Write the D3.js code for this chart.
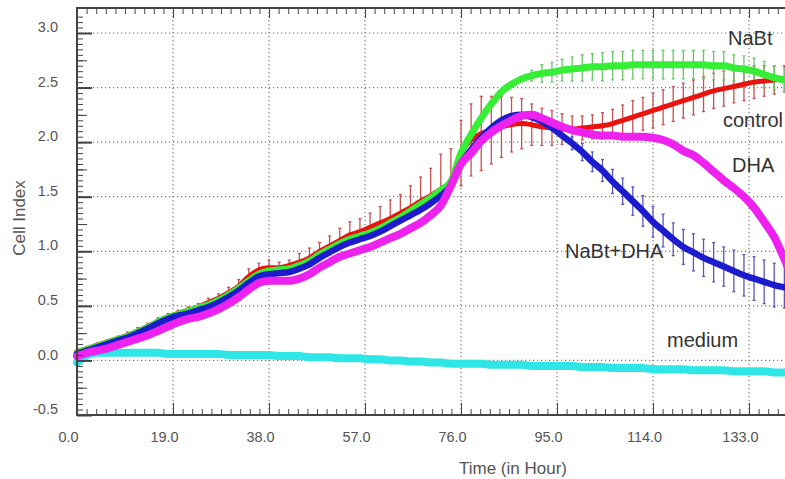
<!DOCTYPE html>
<html>
<head>
<meta charset="utf-8">
<script src="https://cdn.jsdelivr.net/npm/d3@7"></script>
<style>
  body { margin: 0; background: #fff; }
  svg { display: block; font-family: "Liberation Sans", Arial, sans-serif; }
</style>
</head>
<body>
<div id="chart"></div>
<script>
// Sample times (hours)
const hours = [
  0, 2, 4, 6, 8, 10, 12, 14, 16, 18,
  20, 22, 24, 26, 28, 30, 32, 34, 36, 38,
  40, 42, 44, 46, 48, 50, 52, 54, 56, 58,
  60, 62, 64, 66, 68, 70, 72, 74, 76, 78,
  80, 82, 84, 86, 88, 90, 92, 94, 96, 98,
  100, 102, 104, 106, 108, 110, 112, 114, 116, 118,
  120, 122, 124, 126, 128, 130, 132, 134, 136, 138,
  140, 142
];

// Cell index per series
const control = [
  0.08, 0.11, 0.14, 0.17, 0.20, 0.23, 0.27, 0.31, 0.36, 0.40,
  0.43, 0.46, 0.49, 0.53, 0.57, 0.62, 0.68, 0.77, 0.83, 0.85,
  0.85, 0.87, 0.90, 0.94, 1.00, 1.05, 1.10, 1.15, 1.18, 1.22,
  1.26, 1.30, 1.35, 1.40, 1.46, 1.51, 1.57, 1.64, 1.90, 2.02,
  2.08, 2.11, 2.14, 2.16, 2.17, 2.16, 2.14, 2.13, 2.12, 2.12,
  2.13, 2.14, 2.15, 2.17, 2.20, 2.23, 2.26, 2.29, 2.32, 2.35,
  2.38, 2.41, 2.44, 2.47, 2.49, 2.51, 2.53, 2.55, 2.56, 2.57,
  2.58, 2.58
];
const nabt = [
  0.07, 0.10, 0.13, 0.16, 0.19, 0.22, 0.26, 0.30, 0.35, 0.39,
  0.42, 0.45, 0.48, 0.51, 0.55, 0.60, 0.66, 0.73, 0.79, 0.82,
  0.83, 0.84, 0.87, 0.91, 0.97, 1.02, 1.07, 1.11, 1.14, 1.17,
  1.21, 1.26, 1.31, 1.37, 1.43, 1.49, 1.56, 1.64, 1.90, 2.07,
  2.22, 2.35, 2.46, 2.53, 2.58, 2.61, 2.63, 2.64, 2.66, 2.67,
  2.68, 2.69, 2.69, 2.70, 2.70, 2.71, 2.71, 2.71, 2.71, 2.71,
  2.71, 2.71, 2.71, 2.70, 2.70, 2.68, 2.67, 2.65, 2.62, 2.59,
  2.57, 2.55
];
const nabtDha = [
  0.06, 0.09, 0.12, 0.15, 0.18, 0.21, 0.25, 0.29, 0.34, 0.38,
  0.41, 0.43, 0.46, 0.49, 0.53, 0.58, 0.64, 0.71, 0.77, 0.79,
  0.80, 0.81, 0.84, 0.88, 0.94, 0.99, 1.04, 1.08, 1.11, 1.14,
  1.18, 1.23, 1.28, 1.33, 1.38, 1.44, 1.51, 1.60, 1.80, 1.93,
  2.04, 2.13, 2.20, 2.24, 2.25, 2.23, 2.19, 2.13, 2.06, 1.99,
  1.91, 1.82, 1.74, 1.64, 1.55, 1.46, 1.37, 1.27, 1.19, 1.11,
  1.04, 0.99, 0.94, 0.90, 0.86, 0.82, 0.78, 0.75, 0.72, 0.69,
  0.67, 0.65
];
const dha = [
  0.04, 0.07, 0.09, 0.11, 0.14, 0.17, 0.20, 0.23, 0.27, 0.31,
  0.35, 0.38, 0.40, 0.43, 0.47, 0.52, 0.58, 0.65, 0.71, 0.73,
  0.73, 0.73, 0.75, 0.79, 0.85, 0.90, 0.95, 0.98, 1.01, 1.04,
  1.08, 1.12, 1.16, 1.21, 1.26, 1.33, 1.42, 1.60, 1.80, 1.90,
  2.01, 2.09, 2.15, 2.20, 2.24, 2.25, 2.22, 2.18, 2.14, 2.11,
  2.09, 2.07, 2.06, 2.06, 2.05, 2.05, 2.05, 2.04, 2.02, 1.98,
  1.92, 1.88, 1.81, 1.73, 1.65, 1.58, 1.50, 1.40, 1.27, 1.13,
  0.93, 0.72
];
const medium = [
  -0.02, 0.05, 0.07, 0.07, 0.07, 0.07, 0.07, 0.07, 0.07, 0.06,
  0.06, 0.06, 0.06, 0.06, 0.06, 0.05, 0.05, 0.05, 0.05, 0.05,
  0.04, 0.04, 0.04, 0.03, 0.03, 0.03, 0.02, 0.02, 0.02, 0.01,
  0.01, 0.00, 0.00, -0.01, -0.01, -0.02, -0.02, -0.03, -0.03, -0.03,
  -0.03, -0.04, -0.04, -0.04, -0.04, -0.05, -0.05, -0.05, -0.05, -0.05,
  -0.06, -0.06, -0.06, -0.07, -0.07, -0.07, -0.07, -0.08, -0.08, -0.08,
  -0.08, -0.09, -0.09, -0.09, -0.09, -0.10, -0.10, -0.10, -0.10, -0.11,
  -0.11, -0.11
];

// Error bars (upper / lower extent)
const controlErrUp = [
  0, 0.01, 0.02, 0.02, 0.02, 0.03, 0.03, 0.03, 0.03, 0.03,
  0.03, 0.03, 0.03, 0.04, 0.04, 0.05, 0.06, 0.07, 0.06, 0.07,
  0.05, 0.05, 0.08, 0.09, 0.08, 0.09, 0.11, 0.12, 0.12, 0.13,
  0.15, 0.17, 0.17, 0.20, 0.22, 0.25, 0.32, 0.30, 0.30, 0.33,
  0.34, 0.31, 0.28, 0.25, 0.23, 0.19, 0.17, 0.16, 0.14, 0.12,
  0.11, 0.11, 0.12, 0.13, 0.14, 0.15, 0.15, 0.16, 0.16, 0.16,
  0.16, 0.16, 0.16, 0.16, 0.16, 0.15, 0.15, 0.15, 0.14, 0.13,
  0.12, 0.12
];
const controlErrDown = [
  0, 0, 0, 0, 0, 0, 0, 0, 0, 0,
  0, 0, 0, 0, 0, 0, 0, 0, 0, 0,
  0, 0, 0, 0, 0, 0, 0, 0, 0, 0,
  0, 0, 0, 0, 0, 0, 0, 0, 0.30, 0.33,
  0.34, 0.31, 0.28, 0.25, 0.23, 0.19, 0.17, 0.16, 0.14, 0.12,
  0.11, 0.11, 0.12, 0.13, 0.14, 0.15, 0.15, 0.16, 0.16, 0.16,
  0.16, 0.16, 0.16, 0.16, 0.16, 0.15, 0.15, 0.15, 0.14, 0.13,
  0.12, 0.12
];
const nabtErr = [
  0, 0, 0, 0, 0, 0, 0, 0, 0, 0,
  0, 0, 0, 0, 0, 0, 0, 0, 0, 0,
  0, 0, 0, 0, 0, 0, 0, 0, 0, 0,
  0, 0, 0, 0, 0, 0, 0, 0, 0, 0,
  0, 0, 0, 0, 0, 0.05, 0.08, 0.09, 0.10, 0.11,
  0.12, 0.12, 0.13, 0.13, 0.13, 0.13, 0.13, 0.13, 0.13, 0.13,
  0.13, 0.13, 0.13, 0.13, 0.13, 0.12, 0.12, 0.12, 0.12, 0.11,
  0.11, 0.11
];
const nabtDhaErr = [
  0, 0, 0, 0, 0, 0, 0, 0, 0, 0,
  0, 0, 0, 0, 0, 0, 0, 0, 0, 0,
  0, 0, 0, 0, 0, 0, 0, 0, 0, 0,
  0, 0, 0, 0, 0, 0, 0, 0, 0, 0,
  0, 0, 0, 0, 0, 0, 0, 0, 0, 0.06,
  0.08, 0.09, 0.10, 0.11, 0.12, 0.13, 0.14, 0.14, 0.15, 0.15,
  0.16, 0.17, 0.17, 0.18, 0.18, 0.19, 0.19, 0.20, 0.20, 0.20,
  0.19, 0.19
];

const xTicks = [0, 19, 38, 57, 76, 95, 114, 133];
const yTicks = [-0.5, 0.0, 0.5, 1.0, 1.5, 2.0, 2.5, 3.0];

const seriesNames = ["medium", "control", "NaBt", "NaBt+DHA", "DHA"];
const seriesColors = ["#2ee6e6", "#e8120f", "#35ee35", "#1c1ccc", "#ee22ee"];

const width = 785, height = 479;
const plotLeft = 77, plotTop = 8, plotBottom = 415;

const x = d3.scaleLinear().domain([0, 142]).range([plotLeft, plotLeft + 142 * 96 / 19]);
const y = d3.scaleLinear().domain([-0.5, 3.0]).range([plotBottom, 33]);

const svg = d3.select("#chart")
  .append("svg")
  .attr("width", width)
  .attr("height", height);

// Dotted grid
const grid = svg.append("g")
  .attr("stroke", "#777")
  .attr("stroke-width", 1.2)
  .attr("stroke-dasharray", "1.2,2.8");

grid.selectAll("line.v")
  .data(xTicks.filter(d => d > 0))
  .join("line")
  .attr("class", "v")
  .attr("x1", d => x(d)).attr("x2", d => x(d))
  .attr("y1", plotTop).attr("y2", plotBottom);

grid.selectAll("line.h")
  .data(yTicks.filter(d => d > -0.5))
  .join("line")
  .attr("class", "h")
  .attr("x1", plotLeft).attr("x2", width)
  .attr("y1", d => y(d)).attr("y2", d => y(d));

// Error bars
const errSets = [
  { values: control, up: controlErrUp, down: controlErrDown, color: "#c85050" },
  { values: nabt, up: nabtErr, down: nabtErr, color: "#6cc46c" },
  { values: nabtDha, up: nabtDhaErr, down: nabtDhaErr, color: "#5858bc" }
];

errSets.forEach(s => {
  const bars = hours.map((t, i) => ({ t, v: s.values[i], up: s.up[i], down: s.down[i] }))
    .filter(d => d.up > 0 || d.down > 0);
  const g = svg.append("g").attr("stroke", s.color).attr("stroke-width", 1.3);
  g.selectAll("line.bar")
    .data(bars)
    .join("line")
    .attr("class", "bar")
    .attr("x1", d => x(d.t)).attr("x2", d => x(d.t))
    .attr("y1", d => y(d.v + d.up)).attr("y2", d => y(d.v - d.down));
  g.selectAll("line.capTop")
    .data(bars.filter(d => d.up > 0))
    .join("line")
    .attr("class", "capTop")
    .attr("x1", d => x(d.t) - 1.5).attr("x2", d => x(d.t) + 1.5)
    .attr("y1", d => y(d.v + d.up)).attr("y2", d => y(d.v + d.up));
  g.selectAll("line.capBot")
    .data(bars.filter(d => d.down > 0))
    .join("line")
    .attr("class", "capBot")
    .attr("x1", d => x(d.t) - 1.5).attr("x2", d => x(d.t) + 1.5)
    .attr("y1", d => y(d.v - d.down)).attr("y2", d => y(d.v - d.down));
});

// Lines
const line = d3.line()
  .x(d => x(d[0]))
  .y(d => y(d[1]))
  .curve(d3.curveMonotoneX);

const seriesValues = [medium, control, nabt, nabtDha, dha];
const seriesWidths = [8, 5, 7, 6.5, 8];

svg.append("g")
  .selectAll("path")
  .data(seriesValues)
  .join("path")
  .attr("d", vals => line(hours.map((t, i) => [t, vals[i]])))
  .attr("fill", "none")
  .attr("stroke", (d, i) => seriesColors[i])
  .attr("stroke-width", (d, i) => seriesWidths[i])
  .attr("stroke-linejoin", "round")
  .attr("stroke-linecap", "round");

// Axes
const fmt = d => d3.format(".1f")(d).replace("\u2212", "-");

const xAxis = svg.append("g")
  .attr("transform", `translate(0,${plotBottom})`)
  .style("color", "#444")
  .call(d3.axisBottom(x).tickValues(xTicks).tickFormat(fmt)
    .tickSizeInner(-12).tickSizeOuter(0).tickPadding(17));
xAxis.selectAll("text").attr("x", -9).attr("fill", "#555").style("font-size", "14.5px");

svg.append("g")
  .attr("transform", `translate(0,${plotBottom})`)
  .style("color", "#444")
  .call(d3.axisBottom(x).tickValues(d3.range(0, 142, 1.9)).tickFormat("")
    .tickSizeInner(-6).tickSizeOuter(0));

svg.append("g")
  .attr("transform", `translate(0,${plotTop})`)
  .style("color", "#444")
  .call(d3.axisTop(x).tickValues(xTicks).tickFormat("")
    .tickSizeInner(-10).tickSizeOuter(0));

svg.append("g")
  .attr("transform", `translate(0,${plotTop})`)
  .style("color", "#444")
  .call(d3.axisTop(x).tickValues(d3.range(0, 142, 1.9)).tickFormat("")
    .tickSizeInner(-6).tickSizeOuter(0));

const yAxis = svg.append("g")
  .attr("transform", `translate(${plotLeft},0)`)
  .style("color", "#444")
  .call(d3.axisLeft(y).tickValues(yTicks).tickFormat(fmt)
    .tickSizeInner(-15).tickSizeOuter(0).tickPadding(19));
yAxis.selectAll("line").attr("stroke-width", 2);
yAxis.selectAll("text").attr("y", -6).attr("fill", "#555").style("font-size", "14.5px");

svg.append("g")
  .attr("transform", `translate(${plotLeft},0)`)
  .style("color", "#444")
  .call(d3.axisLeft(y).tickValues(d3.range(-0.25, 3.01, 0.5)).tickFormat("")
    .tickSizeInner(-10).tickSizeOuter(0));

svg.append("g")
  .attr("transform", `translate(${plotLeft},0)`)
  .style("color", "#444")
  .call(d3.axisLeft(y).tickValues(d3.range(-0.5, 3.2, 0.05)).tickFormat("")
    .tickSizeInner(-6).tickSizeOuter(0));

svg.selectAll(".domain").remove();

// Frame
svg.append("path")
  .attr("d", `M${width},${plotTop}H${plotLeft}V${plotBottom}H${width}`)
  .attr("fill", "none")
  .attr("stroke", "#444")
  .attr("stroke-width", 2);

// Axis titles
svg.append("text")
  .attr("x", 513).attr("y", 474)
  .attr("text-anchor", "middle")
  .attr("fill", "#555")
  .style("font-size", "17px")
  .text("Time (in Hour)");

svg.append("text")
  .attr("transform", "translate(25,218) rotate(-90)")
  .attr("text-anchor", "middle")
  .attr("fill", "#555")
  .style("font-size", "17px")
  .text("Cell Index");

// Series labels
const labelPos = [[667, 347], [723, 127], [728, 45], [565, 258], [732, 172]];
svg.append("g")
  .selectAll("text")
  .data(seriesNames)
  .join("text")
  .attr("x", (d, i) => labelPos[i][0])
  .attr("y", (d, i) => labelPos[i][1])
  .attr("fill", "#333")
  .style("font-size", "20px")
  .text(d => d);
</script>
</body>
</html>
